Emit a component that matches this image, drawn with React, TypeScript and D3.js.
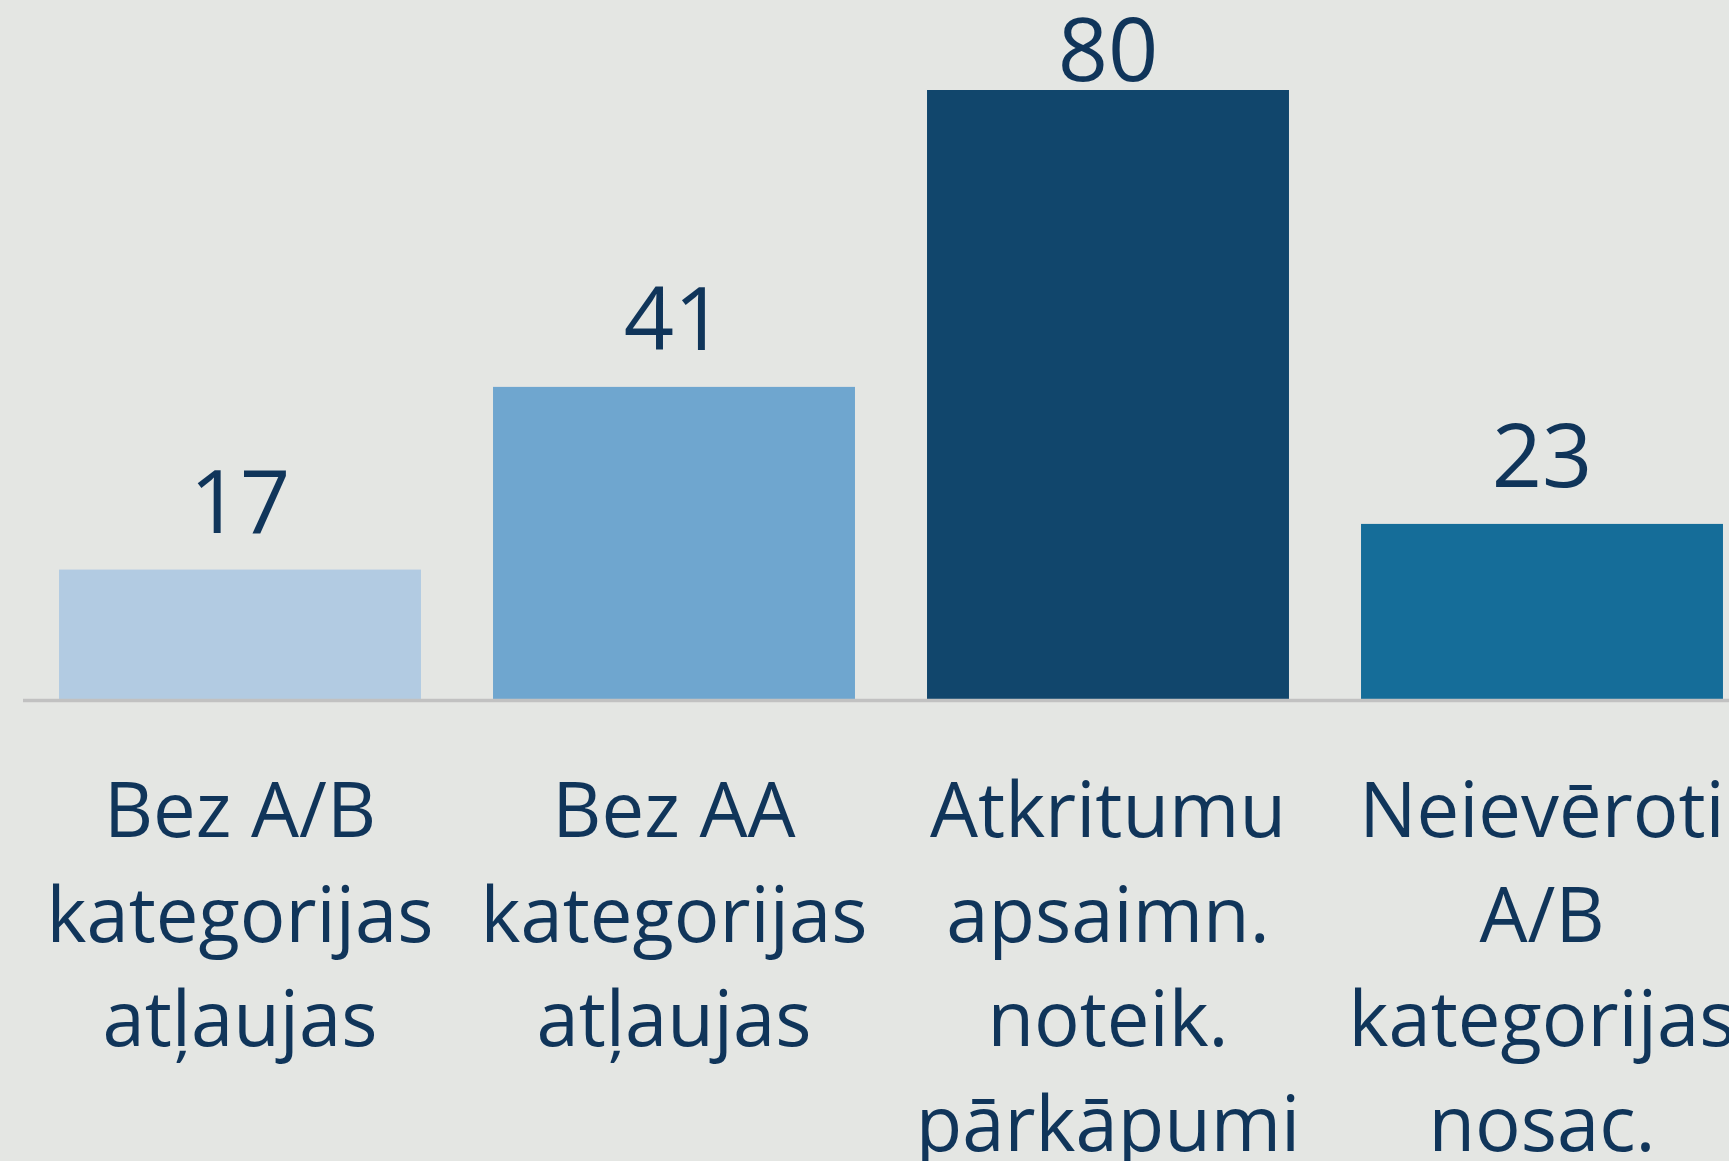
import React, { useRef, useEffect } from "react";
import * as d3 from "d3";

const categories = [
  ["Bez A/B", "kategorijas", "atļaujas"],
  ["Bez AA", "kategorijas", "atļaujas"],
  ["Atkritumu", "apsaimn.", "noteik.", "pārkāpumi"],
  ["Neievēroti", "A/B", "kategorijas", "nosac."],
];
const values = [17, 41, 80, 23];
const colors = ["#b2cbe2", "#6fa6cf", "#11466c", "#156d99"];

const W = 1729;
const H = 1161;

const App = () => {
  const ref = useRef(null);

  useEffect(() => {
    const svg = d3.select(ref.current);
    svg.selectAll("*").remove();

    const baseline = 699;
    const x = d3
      .scaleBand()
      .domain(values.map((v, i) => i))
      .range([23, 1759])
      .paddingInner(0.166)
      .paddingOuter(0.083);

    const y = d3.scaleLinear().domain([0, 80]).range([baseline, 90]);

    svg.append("rect").attr("width", W).attr("height", H).attr("fill", "#e4e6e3");

    // bars
    svg
      .selectAll(".bar")
      .data(values)
      .join("rect")
      .attr("class", "bar")
      .attr("x", (d, i) => x(i))
      .attr("y", (d) => y(d))
      .attr("width", x.bandwidth())
      .attr("height", (d) => baseline - y(d))
      .attr("fill", (d, i) => colors[i]);

    // baseline
    svg
      .append("line")
      .attr("x1", 23)
      .attr("x2", W)
      .attr("y1", baseline + 1.5)
      .attr("y2", baseline + 1.5)
      .attr("stroke", "#c1c1c1")
      .attr("stroke-width", 3.5);

    // value labels (kept inside the plot top like the original)
    svg
      .selectAll(".val")
      .data(values)
      .join("text")
      .attr("class", "val")
      .attr("x", (d, i) => x(i) + x.bandwidth() / 2)
      .attr("y", (d) => Math.max(y(d) - 37, 81))
      .attr("text-anchor", "middle")
      .attr("font-family", "'Open Sans', sans-serif")
      .attr("font-size", 88)
      .attr("fill", "#10355a")
      .text((d) => d);

    // category labels
    const cat = svg
      .selectAll(".cat")
      .data(categories)
      .join("text")
      .attr("class", "cat")
      .attr("text-anchor", "middle")
      .attr("font-family", "'Open Sans', sans-serif")
      .attr("font-size", 76)
      .attr("fill", "#10355a");

    cat
      .selectAll("tspan")
      .data((d, i) => d.map((line) => ({ line, i })))
      .join("tspan")
      .attr("x", (d) => x(d.i) + x.bandwidth() / 2)
      .attr("y", (d, j) => 837 + j * 104.5)
      .text((d) => d.line);
  }, []);

  return (
    <div style={{ position: "absolute", left: 0, top: 0 }}>
      <svg ref={ref} width={W} height={H} style={{ display: "block" }} />
    </div>
  );
};

export default App;
